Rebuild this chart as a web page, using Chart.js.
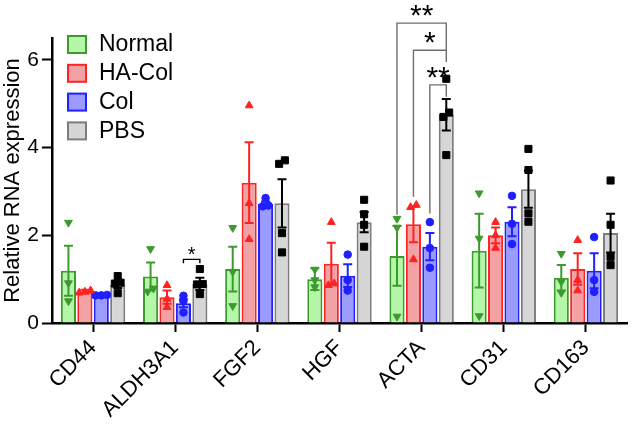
<!DOCTYPE html>
<html>
<head>
<meta charset="utf-8">
<script src="https://cdn.jsdelivr.net/npm/chart.js@4.4.1/dist/chart.umd.min.js"></script>
<style>
  html, body { margin: 0; padding: 0; background: #fff; }
  #wrap { width: 633px; height: 426px; }
</style>
</head>
<body>
<div id="wrap"><canvas id="rnaChart" width="633" height="426"></canvas></div>
<script>
// genes on the x axis
const genes = ['CD44', 'ALDH3A1', 'FGF2', 'HGF', 'ACTA', 'CD31', 'CD163'];
const groups = ['Normal', 'HA-Col', 'Col', 'PBS'];
const yTicks = [0, 2, 4, 6];

// bar heights (mean) and SEM
const normalMean = [1.19, 1.06, 1.23, 1.00, 1.53, 1.65, 1.03];
const normalSem  = [0.57, 0.32, 0.51, 0.25, 0.68, 0.84, 0.29];
const haColMean  = [0.72, 0.59, 3.20, 1.35, 2.25, 2.00, 1.23];
const haColSem   = [0.04, 0.15, 0.92, 0.48, 0.41, 0.18, 0.36];
const colMean    = [0.63, 0.45, 2.72, 1.08, 1.74, 2.31, 1.19];
const colSem     = [0.02, 0.09, 0.05, 0.26, 0.31, 0.33, 0.40];
const pbsMean    = [0.88, 0.89, 2.73, 2.30, 4.75, 3.05, 2.05];
const pbsSem     = [0.08, 0.14, 0.55, 0.23, 0.36, 0.42, 0.44];

// individual samples
const normalPts = [[2.29, 0.91, 0.50], [1.69, 0.79, 0.72], [2.17, 1.17, 0.39], [1.22, 0.98, 0.82],
                   [2.38, 2.18, 0.15], [2.96, 1.93, 0.16], [1.58, 0.94, 0.69]];
const haColPts  = [[0.74, 0.71, 0.69], [0.86, 0.55, 0.36], [4.96, 2.73, 1.91], [2.30, 0.90, 0.86],
                   [2.69, 2.64, 1.45], [2.30, 2.00, 1.71], [1.89, 0.98, 0.74]];
const colPts    = [[0.64, 0.63, 0.63], [0.62, 0.50, 0.24], [2.85, 2.68, 2.66], [1.56, 0.98, 0.74],
                   [2.30, 1.71, 1.26], [2.90, 2.26, 1.80], [1.96, 0.98, 0.71]];
const pbsPts    = [[1.07, 0.92, 0.90, 0.68], [1.23, 0.89, 0.88, 0.66], [3.71, 3.63, 2.05, 1.61],
                   [2.81, 2.48, 2.24, 1.74], [5.57, 4.80, 4.70, 3.83], [3.97, 3.49, 2.50, 2.31],
                   [3.25, 2.24, 1.51, 1.32]];

// significance brackets: gene index, group a -> group b, level, end drops, label
const brackets = [
  { gene: 1, a: 2, b: 3, y: 1.45, endA: 1.36, endB: 1.36, label: '*', size: 20 },
  { gene: 4, a: 0, b: 3, y: 6.84, endA: 2.47, endB: 6.22, label: '**', size: 30 },
  { gene: 4, a: 1, b: 3, y: 6.22, endA: 2.88, endB: 5.95, label: '*', size: 30 },
  { gene: 4, a: 2, b: 3, y: 5.43, endA: 2.50, endB: 5.16, label: '**', size: 30 }
];

const FONT = "'Liberation Sans', Arial, sans-serif";
const fills   = ['#b4f7a8', '#f2a1a4', '#9a9aff', '#d6d6d6'];
const borders = ['#3d9a2e', '#ff2222', '#2020ff', '#7d7d7d'];
const errCols = ['#3d9a2e', '#ff2222', '#2020ff', '#000000'];
const ptCols  = ['#3d9a2e', '#ff2222', '#2020ff', '#000000'];
const ptStyle = ['triangle', 'triangle', 'circle', 'rect'];
const ptRot   = [180, 0, 0, 0];
const ptRad   = [4.5, 4.5, 3.8, 5];

const means = [normalMean, haColMean, colMean, pbsMean];
const sems  = [normalSem, haColSem, colSem, pbsSem];
const pts   = [normalPts, haColPts, colPts, pbsPts];

const slot = 0.2; // categoryPercentage 0.8 / 4 bars
function groupOffset(g) { return (g - 1.5) * slot; }

// spread overlapping points sideways like a scatter-dot plot
function spreadPoints(vals, gi, g) {
  const sorted = vals.slice().sort((p, q) => p - q);
  const out = [];
  let cluster = [sorted[0]];
  const flush = () => {
    cluster.forEach((v, j) => {
      out.push({ x: gi + groupOffset(g) + (j - (cluster.length - 1) / 2) * 0.07, y: v });
    });
  };
  for (let k = 1; k < sorted.length; k++) {
    if (sorted[k] - cluster[cluster.length - 1] < 0.12) cluster.push(sorted[k]);
    else { flush(); cluster = [sorted[k]]; }
  }
  flush();
  return out;
}

const barSets = groups.map((name, g) => ({
  type: 'bar',
  label: name,
  data: means[g],
  backgroundColor: fills[g],
  borderColor: borders[g],
  borderWidth: 2,
  categoryPercentage: 0.8,
  barPercentage: 0.92,
  order: 2
}));

// dots share the category axis; x is a fractional category index
const dotSets = groups.map((name, g) => ({
  type: 'scatter',
  label: name + ' pts',
  parsing: false,
  data: pts[g].flatMap((vals, gi) => spreadPoints(vals, gi, g)),
  pointStyle: ptStyle[g],
  rotation: ptRot[g],
  radius: ptRad[g],
  backgroundColor: ptCols[g],
  borderColor: ptCols[g],
  borderWidth: 1,
  order: 1
}));

// error bars drawn right after each bar dataset, so the dots sit on top
const errorBars = {
  id: 'errorBars',
  afterDatasetDraw(chart, args) {
    if (args.meta.type !== 'bar') return;
    const g = args.index;
    const y = chart.scales.y;
    const ctx = chart.ctx;
    ctx.save();
    ctx.strokeStyle = errCols[g];
    ctx.lineWidth = 2;
    args.meta.data.forEach((bar, i) => {
      const top = y.getPixelForValue(means[g][i] + sems[g][i]);
      const bot = y.getPixelForValue(means[g][i] - sems[g][i]);
      ctx.beginPath();
      ctx.moveTo(bar.x, top); ctx.lineTo(bar.x, bot);
      ctx.moveTo(bar.x - 4.5, top); ctx.lineTo(bar.x + 4.5, top);
      ctx.moveTo(bar.x - 4.5, bot); ctx.lineTo(bar.x + 4.5, bot);
      ctx.stroke();
    });
    ctx.restore();
  }
};

const sigBrackets = {
  id: 'sigBrackets',
  afterDraw(chart) {
    const ctx = chart.ctx;
    const x = chart.scales.x, y = chart.scales.y;
    ctx.save();
    brackets.forEach(b => {
      const xa = x.getPixelForValue(b.gene + groupOffset(b.a));
      const xb = x.getPixelForValue(b.gene + groupOffset(b.b));
      const yl = y.getPixelForValue(b.y);
      ctx.strokeStyle = b.size > 24 ? '#6e6e6e' : '#000';
      ctx.lineWidth = 1.4;
      ctx.beginPath();
      ctx.moveTo(xa, y.getPixelForValue(b.endA));
      ctx.lineTo(xa, yl);
      ctx.lineTo(xb, yl);
      ctx.lineTo(xb, y.getPixelForValue(b.endB));
      ctx.stroke();
      ctx.fillStyle = '#000';
      ctx.font = b.size + 'px ' + FONT;
      ctx.textAlign = 'center';
      ctx.textBaseline = 'alphabetic';
      ctx.fillText(b.label, (xa + xb) / 2, yl + b.size * 0.07);
    });
    ctx.restore();
  }
};

const boxLegend = {
  id: 'boxLegend',
  afterDraw(chart) {
    const ctx = chart.ctx;
    const left = chart.chartArea.left + 16;
    const top = chart.chartArea.top + 6;
    ctx.save();
    groups.forEach((name, g) => {
      const cy = top + g * 28.8;
      ctx.fillStyle = fills[g];
      ctx.strokeStyle = borders[g];
      ctx.lineWidth = 2;
      ctx.fillRect(left, cy - 8, 18, 17);
      ctx.strokeRect(left, cy - 8, 18, 17);
      ctx.fillStyle = '#000';
      ctx.font = '23px ' + FONT;
      ctx.textAlign = 'left';
      ctx.textBaseline = 'middle';
      ctx.fillText(name, left + 31, cy + 1);
    });
    ctx.restore();
  }
};

const ctx = document.getElementById('rnaChart').getContext('2d');
const rnaChart = new Chart(ctx, {
  type: 'bar',
  data: {
    labels: genes,
    datasets: [...barSets, ...dotSets]
  },
  options: {
    responsive: false,
    animation: false,
    layout: { padding: { top: 38, left: 0, right: 0, bottom: 0 } },
    plugins: {
      legend: { display: false },
      tooltip: { enabled: false }
    },
    scales: {
      x: {
        type: 'category',
        offset: true,
        grid: { offset: false, drawOnChartArea: false, drawTicks: true, tickLength: 9, tickColor: '#000', tickWidth: 2 },
        border: { color: '#000', width: 2.5 },
        ticks: {
          minRotation: 45, maxRotation: 45, padding: 3,
          color: '#000', font: { family: FONT, size: 22 }
        },
        afterFit(scale) { scale.height = 103; }
      },
      y: {
        min: 0,
        max: 6.5,
        grid: { drawOnChartArea: false, drawTicks: true, tickLength: 10, tickColor: '#000', tickWidth: 2 },
        border: { color: '#000', width: 2.5 },
        afterBuildTicks(scale) { scale.ticks = yTicks.map(v => ({ value: v })); },
        ticks: { color: '#000', padding: 3, font: { family: FONT, size: 21 } },
        title: {
          display: true,
          text: 'Relative RNA expression',
          color: '#000',
          padding: 0,
          font: { family: FONT, size: 22 }
        },
        afterFit(scale) { scale.width = 52; }
      }
    }
  },
  plugins: [errorBars, sigBrackets, boxLegend]
});
</script>
</body>
</html>
